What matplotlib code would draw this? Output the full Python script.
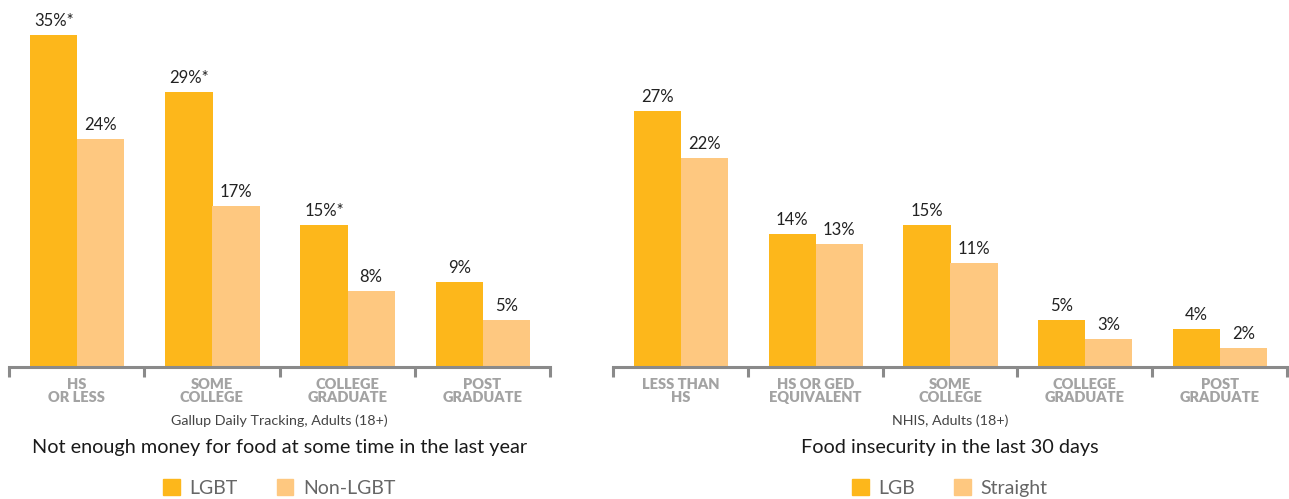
import matplotlib.pyplot as plt
from matplotlib.patches import Patch

plt.rcParams['font.family'] = ['Lato', 'DejaVu Sans']

# left panel: Gallup
left_cats = ["HS\nOR LESS", "SOME\nCOLLEGE", "COLLEGE\nGRADUATE", "POST\nGRADUATE"]
lgbt = [35, 29, 15, 9]
non_lgbt = [24, 17, 8, 5]
lgbt_marks = ["*", "*", "*", ""]

# right panel: NHIS
right_cats = ["LESS THAN\nHS", "HS OR GED\nEQUIVALENT", "SOME\nCOLLEGE",
              "COLLEGE\nGRADUATE", "POST\nGRADUATE"]
lgb = [27, 14, 15, 5, 4]
straight = [22, 13, 11, 3, 2]

c_dark = '#FDB71B'
c_light = '#FEC880'
grey_axis = '#8a8a8a'
grey_lab = '#a3a3a3'

W, H = 1289, 499
fig = plt.figure(figsize=(W / 100, H / 100), dpi=100)


def panel(x0, x1, cats, a, b, marks, source, title, names):
    base = 367
    ax = fig.add_axes([x0 / W, (H - base) / H, (x1 - x0) / W, base / H])
    n = len(cats)
    xs = list(range(n))
    bw = 0.35
    ax.bar([x - 0.345 for x in xs], a, width=bw, align='edge', color=c_dark, zorder=2)
    ax.bar([x + 0.003 for x in xs], b, width=bw, align='edge', color=c_light, zorder=2)
    for i in xs:
        ax.annotate(f"{a[i]}%" + marks[i], (i - 0.345 + bw / 2, a[i]), xytext=(0, 4),
                    textcoords='offset points', ha='center', va='bottom',
                    fontsize=12, color='#222222')
        ax.annotate(f"{b[i]}%", (i + 0.003 + bw / 2, b[i]), xytext=(0, 4),
                    textcoords='offset points', ha='center', va='bottom',
                    fontsize=12, color='#222222')
    ax.set_xlim(-0.5, n - 0.5)
    ax.set_ylim(0, base / 9.5)
    for s in ['top', 'right', 'left']:
        ax.spines[s].set_visible(False)
    ax.spines['bottom'].set_color(grey_axis)
    ax.spines['bottom'].set_linewidth(2.2)
    ax.spines['bottom'].set_zorder(3)
    ax.set_yticks([])
    ax.set_xticks([x - 0.5 for x in range(n + 1)])
    ax.set_xticklabels([])
    ax.tick_params(axis='x', which='major', length=7, width=2.2, color=grey_axis)
    ax.set_xticks(xs, minor=True)
    ax.set_xticklabels(cats, minor=True, fontsize=10.5, fontweight='heavy',
                       color=grey_lab, linespacing=1.0)
    ax.tick_params(axis='x', which='minor', length=0, pad=8)
    cx = (x0 + x1) / 2 / W
    fig.text(cx, 1 - 421 / H, source, ha='center', va='center', fontsize=10.3, color='#444444')
    fig.text(cx, 1 - 448 / H, title, ha='center', va='center', fontsize=14.3, color='#1a1a1a')
    handles = [Patch(color=c_dark, label=names[0]), Patch(color=c_light, label=names[1])]
    fig.legend(handles=handles, loc='center', bbox_to_anchor=(cx, 1 - 488 / H), ncol=2,
               frameon=False, fontsize=14, labelcolor='#666666', handlelength=0.85,
               handleheight=0.85, handletextpad=0.5, columnspacing=2.0)
    return ax


panel(9, 550, left_cats, lgbt, non_lgbt, lgbt_marks,
      "Gallup Daily Tracking, Adults (18+)",
      "Not enough money for food at some time in the last year", ["LGBT", "Non-LGBT"])
panel(613, 1287, right_cats, lgb, straight, [""] * 5,
      "NHIS, Adults (18+)",
      "Food insecurity in the last 30 days", ["LGB", "Straight"])

fig.savefig('out.png', dpi=100)
